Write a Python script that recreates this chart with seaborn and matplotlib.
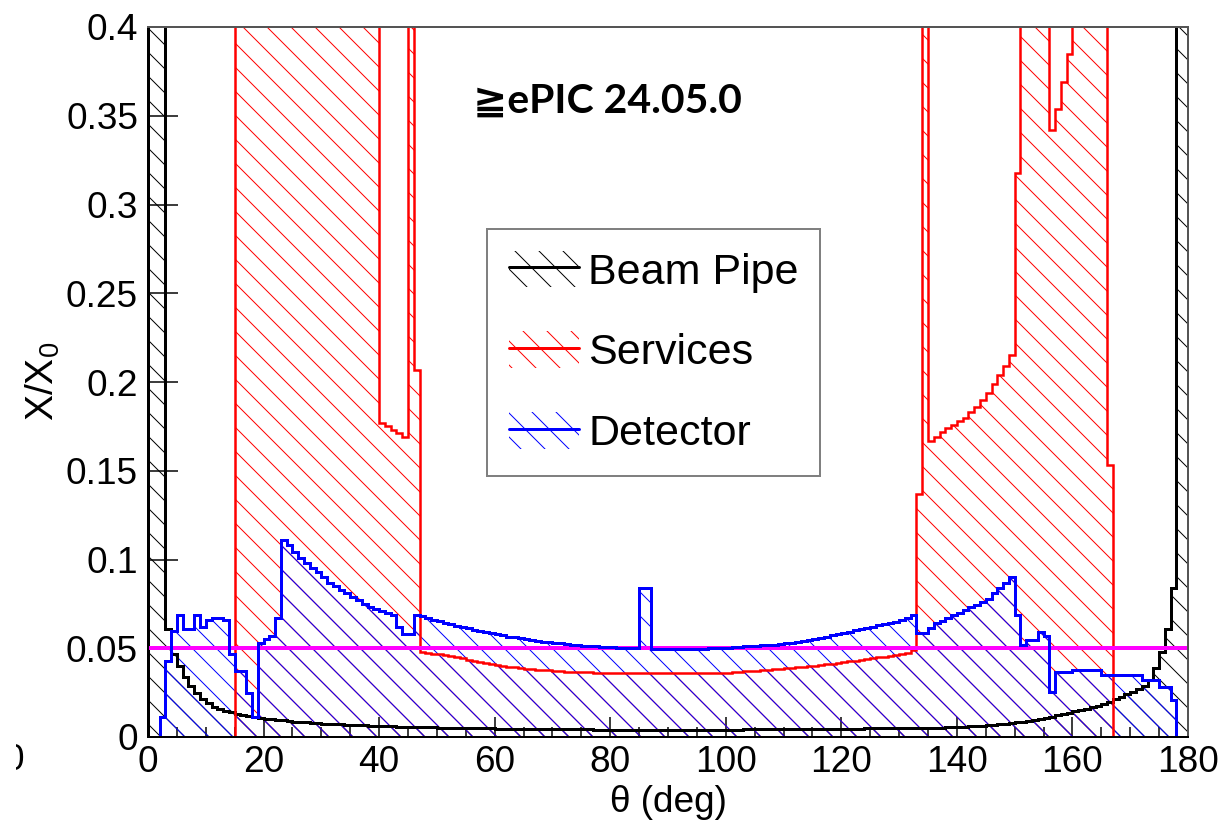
import matplotlib
matplotlib.use("Agg")
import numpy as np
import pandas as pd
import matplotlib.pyplot as plt
import seaborn as sns
from matplotlib.patches import Patch, Rectangle
from matplotlib.lines import Line2D
from matplotlib.ticker import MultipleLocator, FixedLocator, FixedFormatter
from matplotlib.legend_handler import HandlerTuple

# ---------------- data (1-degree bins, 0..180 deg) ----------------
theta_edges = list(range(0, 181))

beam_pipe = [
    1.0, 1.0, 1.0, 0.061, 0.047, 0.040, 0.034, 0.029, 0.025, 0.0215,
    0.019, 0.017, 0.0157, 0.0147, 0.0139, 0.0132, 0.0125, 0.0119, 0.0114, 0.0109,
    0.0104, 0.0100, 0.0096, 0.0093, 0.0090, 0.0087, 0.0084, 0.0082, 0.0080, 0.0078,
    0.0076, 0.0074, 0.0072, 0.0071, 0.0069, 0.0068, 0.0067, 0.0066, 0.0064, 0.0063,
    0.0062, 0.0061, 0.0060, 0.0059, 0.0058, 0.0057, 0.0056, 0.0055, 0.0054, 0.0054,
    0.0053, 0.0052, 0.0052, 0.0051, 0.0050, 0.0050, 0.0049, 0.0049, 0.0048, 0.0048,
    0.0047, 0.0047, 0.0046, 0.0046, 0.0046, 0.0045, 0.0045, 0.0045, 0.0044, 0.0044,
    0.0044, 0.0044, 0.0043, 0.0043, 0.0043, 0.0043, 0.0043, 0.0042, 0.0042, 0.0042,
    0.0042, 0.0042, 0.0042, 0.0042, 0.0042, 0.0042, 0.0042, 0.0042, 0.0042, 0.0042,
    0.0042, 0.0042, 0.0042, 0.0042, 0.0042, 0.0042, 0.0042, 0.0042, 0.0042, 0.0042,
    0.0042, 0.0042, 0.0042, 0.0043, 0.0043, 0.0043, 0.0043, 0.0043, 0.0044, 0.0044,
    0.0044, 0.0044, 0.0044, 0.0045, 0.0045, 0.0045, 0.0045, 0.0046, 0.0046, 0.0046,
    0.0046, 0.0047, 0.0047, 0.0047, 0.0048, 0.0048, 0.0048, 0.0049, 0.0049, 0.0049,
    0.0049, 0.0050, 0.0050, 0.0051, 0.0051, 0.0052, 0.0052, 0.0053, 0.0054, 0.0055,
    0.0056, 0.0058, 0.0060, 0.0062, 0.0064, 0.0066, 0.0069, 0.0072, 0.0075, 0.0079,
    0.0083, 0.0087, 0.0092, 0.0097, 0.0102, 0.0108, 0.0115, 0.0122, 0.0130, 0.0138,
    0.0145, 0.0150, 0.0158, 0.0167, 0.0177, 0.0188, 0.0200, 0.0212, 0.0226, 0.0240,
    0.0255, 0.0272, 0.0290, 0.0320, 0.0390, 0.0480, 0.0610, 0.0840, 1.0, 1.0,
]

services = [
    0, 0, 0, 0, 0, 0, 0, 0, 0, 0,
    0, 0, 0, 0, 0, 1.0, 1.0, 1.0, 1.0, 1.0,
    1.0, 1.0, 1.0, 1.0, 1.0, 1.0, 1.0, 1.0, 1.0, 1.0,
    1.0, 1.0, 1.0, 1.0, 1.0, 1.0, 1.0, 1.0, 1.0, 1.0,
    0.177, 0.175, 0.173, 0.171, 0.169, 1.0, 0.207, 0.048, 0.0475, 0.047,
    0.0465, 0.046, 0.0455, 0.045, 0.0443, 0.0436, 0.043, 0.0424, 0.0418, 0.0412,
    0.0407, 0.0402, 0.0397, 0.0393, 0.0389, 0.0385, 0.0382, 0.0379, 0.0377, 0.0375,
    0.0373, 0.0371, 0.0369, 0.0367, 0.0366, 0.0365, 0.0364, 0.0363, 0.0362, 0.0361,
    0.0360, 0.0360, 0.0360, 0.0360, 0.0360, 0.0360, 0.0360, 0.0360, 0.0360, 0.0360,
    0.0360, 0.0360, 0.0360, 0.0360, 0.0360, 0.0360, 0.0360, 0.0360, 0.0360, 0.0360,
    0.0362, 0.0366, 0.0368, 0.0370, 0.0372, 0.0374, 0.0376, 0.0378, 0.0381, 0.0384,
    0.0387, 0.0390, 0.0393, 0.0396, 0.0399, 0.0402, 0.0406, 0.0410, 0.0414, 0.0418,
    0.0422, 0.0426, 0.0430, 0.0434, 0.0438, 0.0443, 0.0448, 0.0453, 0.0458, 0.0463,
    0.0468, 0.0475, 0.0490, 0.137, 1.0, 0.167, 0.169, 0.172, 0.174, 0.176,
    0.178, 0.180, 0.183, 0.186, 0.190, 0.194, 0.199, 0.204, 0.209, 0.215,
    0.318, 1.0, 1.0, 1.0, 1.0, 1.0, 0.342, 0.354, 0.369, 0.385,
    1.0, 1.0, 1.0, 1.0, 1.0, 1.0, 0.153, 0, 0, 0,
    0, 0, 0, 0, 0, 0, 0, 0, 0, 0,
]

detector = [
    0, 0, 0.011, 0.043, 0.060, 0.0687, 0.061, 0.061, 0.0687, 0.062,
    0.066, 0.067, 0.067, 0.066, 0.047, 0.037, 0.037, 0.025, 0.011, 0.053,
    0.055, 0.057, 0.067, 0.111, 0.108, 0.104, 0.101, 0.098, 0.095, 0.093,
    0.090, 0.087, 0.085, 0.083, 0.081, 0.079, 0.077, 0.075, 0.073, 0.072,
    0.071, 0.070, 0.069, 0.062, 0.058, 0.058, 0.0685, 0.068, 0.067, 0.066,
    0.0652, 0.0644, 0.0636, 0.0628, 0.062, 0.0612, 0.0605, 0.0598, 0.0591, 0.0584,
    0.0578, 0.0572, 0.0566, 0.0561, 0.0556, 0.0551, 0.0546, 0.0542, 0.0538, 0.0534,
    0.0530, 0.0527, 0.0524, 0.0521, 0.0518, 0.0515, 0.0513, 0.0511, 0.0509, 0.0507,
    0.0505, 0.0503, 0.0501, 0.0500, 0.0499, 0.084, 0.084, 0.0498, 0.0497, 0.0497,
    0.0497, 0.0497, 0.0497, 0.0497, 0.0497, 0.0497, 0.0498, 0.0499, 0.0500, 0.0502,
    0.0504, 0.0506, 0.0508, 0.0510, 0.0512, 0.0514, 0.0516, 0.0518, 0.0521, 0.0524,
    0.0528, 0.0532, 0.0537, 0.0542, 0.0547, 0.0553, 0.0559, 0.0566, 0.0573, 0.0580,
    0.0587, 0.0594, 0.0601, 0.0608, 0.0615, 0.0622, 0.0629, 0.0636, 0.0643, 0.0650,
    0.0660, 0.0670, 0.0685, 0.0586, 0.0586, 0.0614, 0.0640, 0.0655, 0.0670, 0.0685,
    0.0700, 0.0715, 0.0730, 0.0745, 0.0762, 0.0780, 0.0810, 0.0840, 0.0870, 0.0900,
    0.0685, 0.0517, 0.0545, 0.0545, 0.0590, 0.0570, 0.0253, 0.0365, 0.0365, 0.0365,
    0.0376, 0.0376, 0.0376, 0.0376, 0.0376, 0.0348, 0.0348, 0.0348, 0.0348, 0.0348,
    0.0348, 0.0348, 0.032, 0.032, 0.032, 0.028, 0.028, 0.0208, 0, 0,
]

series_names = ["Beam Pipe", "Services", "Detector"]
series_colors = ["#000000", "#ff0000", "#0000ff"]
x_ticks = [0, 20, 40, 60, 80, 100, 120, 140, 160, 180]
y_ticks = [0, 0.05, 0.1, 0.15, 0.2, 0.25, 0.3, 0.35, 0.4]
y_tick_labels = ["0", "0.05", "0.1", "0.15", "0.2", "0.25", "0.3", "0.35", "0.4"]
reference_level = 0.05
version_text = "≧ePIC 24.05.0"
x_label = "θ (deg)"
y_label = r"X/$\mathrm{X}_0$"

# ---------------- style ----------------
sns.set_theme(style="ticks")
plt.rcParams["font.family"] = ["Liberation Sans", "DejaVu Sans"]
plt.rcParams["mathtext.fontset"] = "custom"
plt.rcParams["mathtext.rm"] = "Liberation Sans"
plt.rcParams["mathtext.it"] = "Liberation Sans:italic"
plt.rcParams["hatch.linewidth"] = 1.0
for k in ["text.color", "axes.labelcolor", "xtick.color", "ytick.color", "axes.edgecolor"]:
    plt.rcParams[k] = "black"

W, H, DPI = 1232, 827, 72
fig = plt.figure(figsize=(W / DPI, H / DPI), dpi=DPI)
fig.patch.set_facecolor("white")
ax = fig.add_axes([148 / W, 1 - 737 / H, 1040 / W, 710 / H])

centers = [(theta_edges[i] + theta_edges[i + 1]) / 2 for i in range(len(theta_edges) - 1)]
df = pd.DataFrame({"theta": centers, "Beam Pipe": beam_pipe,
                   "Services": services, "Detector": detector})

# hatched fills (seaborn weighted step histograms); identical aligned hatch
# patterns, so the detector (drawn last) overwrites the others where they overlap
fill_order = [("Beam Pipe", "#000000", 1.0), ("Services", "#ff0000", 1.1), ("Detector", "#0000ff", 1.2)]
for name, color, z in fill_order:
    sns.histplot(data=df, x="theta", weights=name, bins=theta_edges, element="step",
                 fill=True, color=color, facecolor="none", edgecolor=color, linewidth=0,
                 hatch="\\", alpha=1, ax=ax, zorder=z)

# outlines
ax.stairs(beam_pipe, theta_edges, baseline=0, color="#000000", linewidth=3, zorder=4)
ax.stairs(services, theta_edges, baseline=0, color="#ff0000", linewidth=2.5, zorder=5)
ax.axhline(reference_level, color="#ff00ff", linewidth=4, zorder=6)
ax.stairs(detector, theta_edges, baseline=0, color="#0000ff", linewidth=3, zorder=7)

ax.set_xlim(0, 180)
ax.set_ylim(0, 0.4)
ax.set_xlabel("")
ax.set_ylabel("")

ax.xaxis.set_major_locator(FixedLocator(x_ticks))
ax.xaxis.set_minor_locator(MultipleLocator(5))
ax.yaxis.set_major_locator(FixedLocator(y_ticks))
ax.yaxis.set_major_formatter(FixedFormatter(y_tick_labels))
ax.tick_params(axis="both", which="both", direction="in", width=1.5, labelsize=37,
               top=False, right=False)
ax.tick_params(axis="x", which="major", length=20, pad=8)
ax.tick_params(axis="x", which="minor", length=10)
ax.tick_params(axis="y", which="major", length=30, pad=10)

for side in ["left", "bottom"]:
    ax.spines[side].set_color("black")
    ax.spines[side].set_linewidth(2)
    ax.spines[side].set_zorder(10)
for side in ["top", "right"]:
    ax.spines[side].set_visible(True)
    ax.spines[side].set_color("#555555")
    ax.spines[side].set_linewidth(2)
    ax.spines[side].set_zorder(10)

# legend
handles = [(Patch(facecolor="none", edgecolor=c, hatch="\\", linewidth=0),
            Line2D([0], [0], color=c, linewidth=3)) for c in series_colors]
leg = fig.legend(handles, series_names, loc="upper left",
                 bbox_to_anchor=(487 / W, 1 - 229 / H), bbox_transform=fig.transFigure,
                 fontsize=43, frameon=True, fancybox=False, framealpha=1,
                 edgecolor="#808080", facecolor="white",
                 handlelength=1.63, handleheight=0.93, handletextpad=0.22,
                 labelspacing=0.9, borderpad=0.5, borderaxespad=0,
                 handler_map={tuple: HandlerTuple(ndivide=1)})
leg.get_frame().set_linewidth(2)

# texts
fig.text(473 / W, 1 - 101 / H, version_text, fontsize=41, fontweight="bold",
         family=["Lato", "DejaVu Sans"], ha="left", va="center")
fig.text(43 / W, 1 - 381 / H, y_label, rotation=90, fontsize=39, ha="center", va="center")
fig.text(668 / W, 1 - 803 / H, x_label, fontsize=37, ha="center", va="center")

# cropped remnant of a label at the far left
fig.text(24 / W, 1 - 760 / H, "0", fontsize=37, ha="right", va="center")
fig.patches.append(Rectangle((0, 0), 16 / W, 1, transform=fig.transFigure,
                             facecolor="white", edgecolor="none", zorder=20))

fig.savefig("out.png", dpi=DPI)
